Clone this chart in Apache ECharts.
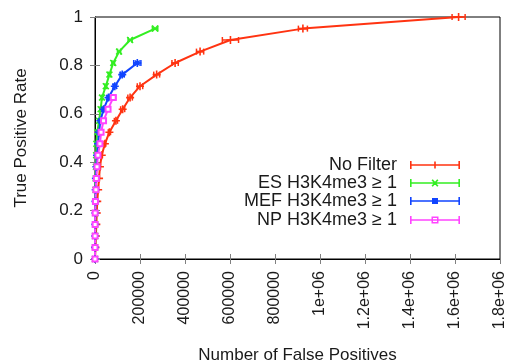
<!DOCTYPE html>
<html>
<head>
<meta charset="utf-8">
<script src="https://cdn.jsdelivr.net/npm/echarts@6/dist/echarts.min.js"></script>
<style>
  html, body { margin: 0; padding: 0; background: #fff; }
  #chart { width: 508px; height: 364px; }
</style>
</head>
<body>
<div id="chart"></div>
<script>
// true positive rate levels (shared by all curves)
const tprLevels = [0, 0.048, 0.095, 0.143, 0.190, 0.238, 0.286, 0.333, 0.381, 0.429, 0.476,
  0.524, 0.571, 0.619, 0.667, 0.714, 0.762, 0.810, 0.857, 0.905, 0.952, 1.0];

// false positives per level
const noFilterFp = [0, 2000, 4000, 6000, 8000, 10000, 14000, 18000, 22000, 30000, 44000,
  64000, 93000, 123000, 156000, 200000, 274000, 356000, 467000, 602000, 924000, 1616000];
const noFilterErr = [0, 300, 500, 600, 800, 1000, 1500, 2000, 2500, 3000, 4000,
  5000, 7000, 9000, 10000, 12000, 13000, 14000, 16000, 36000, 20000, 29000];

const esFp = [0, 300, 700, 1000, 1500, 2000, 2500, 3000, 4000, 5000, 6000,
  10000, 18000, 25000, 31000, 48000, 64000, 81000, 107000, 156000, 267000];
const esErr = [0, 100, 200, 300, 300, 400, 500, 500, 600, 800, 1000,
  1500, 2000, 2500, 3000, 4000, 5000, 6000, 7000, 9000, 12000];

const mefFp = [0, 300, 600, 1000, 1500, 2000, 3000, 4000, 6000, 9000, 14000,
  18000, 24000, 38000, 60000, 88000, 121000, 188000];
const mefErr = [0, 100, 200, 300, 300, 400, 500, 600, 800, 1000, 1500,
  2000, 2500, 3500, 5000, 7000, 9000, 16000];

const npFp = [0, 200, 400, 600, 800, 2000, 4000, 6000, 9000, 13000, 22000,
  27000, 38000, 58000, 81000];
const npErr = [0, 100, 100, 200, 200, 300, 500, 700, 1000, 1500, 2000,
  3000, 4000, 6000, 12000];

const xTickLabels = ['0', '200000', '400000', '600000', '800000', '1e+06', '1.2e+06', '1.4e+06', '1.6e+06', '1.8e+06'];

const names = ['No Filter', 'ES H3K4me3 \u2265 1', 'MEF H3K4me3 \u2265 1', 'NP H3K4me3 \u2265 1'];
const colors = ['#ff3311', '#33ee22', '#1144ff', '#ff44ff'];

const FONT = 'Liberation Sans';

// point shapes
const plusPath = 'path://M-1,-5L1,-5L1,-1L5,-1L5,1L1,1L1,5L-1,5L-1,1L-5,1L-5,-1L-1,-1Z';
const crossPath = 'path://M-4.4,-3L-3,-4.4L0,-1.4L3,-4.4L4.4,-3L1.4,0L4.4,3L3,4.4L0,1.4L-3,4.4L-4.4,3L-1.4,0Z';
const starPath = 'path://M-1,-5L1,-5L1,-1L5,-1L5,1L1,1L1,5L-1,5L-1,1L-5,1L-5,-1L-1,-1Z' +
  'M-3.8,-2.4L-2.4,-3.8L3.8,2.4L2.4,3.8ZM2.4,-3.8L3.8,-2.4L-2.4,3.8L-3.8,2.4Z';

// legend samples: line with error caps and the point shape in the middle
function legendIcon(mid) {
  return 'path://M0,0L1.6,0L1.6,3.3L48.4,3.3L48.4,0L50,0L50,8L48.4,8L48.4,4.7L1.6,4.7L1.6,8L0,8Z' + mid;
}
const legendMarks = [
  'M24.2,0.5L25.8,0.5L25.8,7.5L24.2,7.5Z',
  'M21.5,1.3L22.8,0.3L28.5,6.7L27.2,7.7ZM27.2,0.3L28.5,1.3L22.8,7.7L21.5,6.7Z',
  'M22,1L28,1L28,7L22,7Z',
  'M21.5,0.5L28.5,0.5L28.5,7.5L21.5,7.5ZM23,2L23,6L27,6L27,2Z'
];

function pairs(fp) {
  return fp.map((v, i) => [v, tprLevels[i]]);
}
function errData(fp, err) {
  return fp.map((v, i) => [v, tprLevels[i], err[i]]);
}

function errorBars(fp, err, color) {
  return {
    type: 'custom',
    data: errData(fp, err),
    silent: true,
    z: 3,
    renderItem: function (params, api) {
      const x = api.value(0), y = api.value(1), e = api.value(2);
      const a = api.coord([x - e, y]);
      const b = api.coord([x + e, y]);
      const h = 3;
      const st = { stroke: color, lineWidth: 1.5 };
      return {
        type: 'group',
        children: [
          { type: 'line', shape: { x1: a[0], y1: a[1], x2: b[0], y2: b[1] }, style: st },
          { type: 'line', shape: { x1: a[0], y1: a[1] - h, x2: a[0], y2: a[1] + h }, style: st },
          { type: 'line', shape: { x1: b[0], y1: b[1] - h, x2: b[0], y2: b[1] + h }, style: st }
        ]
      };
    }
  };
}

function lineSeries(name, fp, color, symbol, size) {
  return {
    name: name,
    type: 'line',
    data: pairs(fp),
    symbol: symbol,
    symbolSize: size,
    showAllSymbol: true,
    z: 4,
    lineStyle: { color: color, width: 2 },
    itemStyle: { color: color, borderColor: color, borderWidth: symbol === 'emptyRect' ? 2 : 0 },
    emphasis: { disabled: true }
  };
}

const legendTop = [151, 169, 187, 206];
const legends = names.map((n, i) => ({
  data: [{
    name: n,
    icon: legendIcon(legendMarks[i]),
    itemStyle: { color: colors[i], borderWidth: 0 },
    lineStyle: { width: 0 }
  }],
  right: 43,
  top: legendTop[i],
  align: 'right',
  itemWidth: 50,
  itemHeight: 8,
  selectedMode: false,
  textStyle: { fontFamily: FONT, fontSize: 18, color: '#1a1a1a', padding: [0, 8, 0, 0] }
}));

const chart = echarts.init(document.getElementById('chart'), null, { renderer: 'canvas' });

const tickStyle = { show: true, inside: true, length: 5, lineStyle: { color: '#808080', width: 1 } };

chart.setOption({
  animation: false,
  backgroundColor: '#fff',
  color: colors,
  textStyle: { fontFamily: FONT },
  legend: legends,
  grid: {
    left: 95, right: 8, top: 17, bottom: 105,
    outerBoundsMode: 'none',
    containLabel: false,
    show: true, borderColor: '#000', borderWidth: 1, backgroundColor: 'transparent'
  },
  xAxis: [{
    type: 'value',
    min: 0, max: 1800000, interval: 200000,
    name: 'Number of False Positives',
    nameLocation: 'middle',
    nameGap: 88,
    nameTextStyle: { fontFamily: FONT, fontSize: 17, color: '#1a1a1a' },
    axisLine: { show: true, lineStyle: { color: '#000', width: 1 } },
    axisTick: tickStyle,
    splitLine: { show: false },
    axisLabel: {
      rotate: 90, margin: 12, fontFamily: FONT, fontSize: 16, color: '#1a1a1a',
      formatter: (v, i) => xTickLabels[i]
    }
  }, {
    type: 'value', position: 'top',
    min: 0, max: 1800000, interval: 200000,
    axisLine: { show: false }, axisTick: tickStyle,
    axisLabel: { show: false }, splitLine: { show: false }
  }],
  yAxis: [{
    type: 'value',
    min: 0, max: 1, interval: 0.2,
    name: 'True Positive Rate',
    nameLocation: 'middle',
    nameGap: 65,
    nameTextStyle: { fontFamily: FONT, fontSize: 17, color: '#1a1a1a' },
    axisLine: { show: true, lineStyle: { color: '#000', width: 1 } },
    axisTick: tickStyle,
    splitLine: { show: false },
    axisLabel: { margin: 12, fontFamily: FONT, fontSize: 17, color: '#1a1a1a' }
  }, {
    type: 'value', position: 'right',
    min: 0, max: 1, interval: 0.2,
    axisLine: { show: false }, axisTick: tickStyle,
    axisLabel: { show: false }, splitLine: { show: false }
  }],
  series: [
    errorBars(noFilterFp, noFilterErr, colors[0]),
    lineSeries(names[0], noFilterFp, colors[0], plusPath, 8),
    errorBars(esFp, esErr, colors[1]),
    lineSeries(names[1], esFp, colors[1], crossPath, 7),
    errorBars(mefFp, mefErr, colors[2]),
    lineSeries(names[2], mefFp, colors[2], starPath, 8),
    errorBars(npFp, npErr, colors[3]),
    lineSeries(names[3], npFp, colors[3], 'emptyRect', 5)
  ]
});
</script>
</body>
</html>
